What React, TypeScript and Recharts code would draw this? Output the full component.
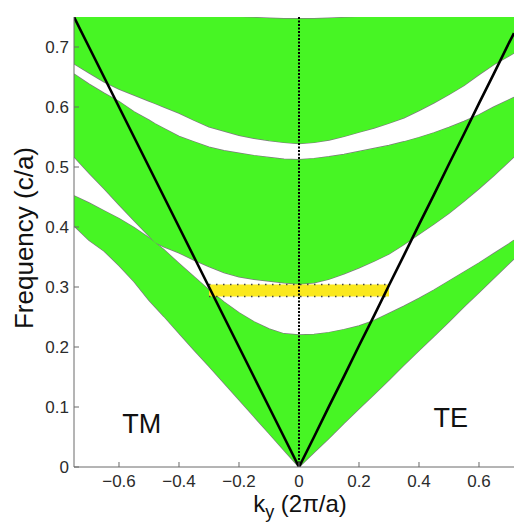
import { ComposedChart, Area, Line, XAxis, YAxis, ReferenceArea, ReferenceLine, ReferenceDot, Label } from "recharts";

const FONT = "'Liberation Sans', Arial, Helvetica, sans-serif";
const GREEN = "#47F524";
const YELLOW = "#FAE81E";
const AXIS = "#6a6a6a";
const EDGE = "#7d7d7d";

// wavevector samples (2pi/a)
const kValues = [-0.75, -0.7, -0.65, -0.6, -0.55, -0.5, -0.48, -0.45, -0.4, -0.35, -0.3, -0.25, -0.2, -0.15, -0.1, -0.05, 0,
  0.05, 0.1, 0.15, 0.2, 0.25, 0.3, 0.35, 0.4, 0.45, 0.5, 0.55, 0.6, 0.65, 0.7, 0.7167];

// TM on the left (k<0), TE on the right (k>0)
const band1Low = [0.402, 0.378, 0.36, 0.336, 0.309, 0.278, 0.267, 0.251, 0.223, 0.195, 0.168, 0.14, 0.112, 0.084, 0.056, 0.028, 0,
  0.024, 0.048, 0.073, 0.097, 0.121, 0.145, 0.17, 0.194, 0.218, 0.242, 0.267, 0.291, 0.315, 0.339, 0.347];
const band1High = [0.452, 0.44, 0.427, 0.414, 0.399, 0.382, 0.374, 0.362, 0.339, 0.317, 0.295, 0.275, 0.257, 0.242, 0.23, 0.222, 0.22,
  0.221, 0.224, 0.229, 0.235, 0.244, 0.256, 0.268, 0.281, 0.295, 0.31, 0.325, 0.34, 0.356, 0.372, 0.378];
const band2Low = [0.517, 0.49, 0.464, 0.437, 0.411, 0.385, 0.374, 0.367, 0.357, 0.345, 0.334, 0.324, 0.317, 0.313, 0.31, 0.307, 0.305,
  0.307, 0.313, 0.322, 0.332, 0.343, 0.355, 0.371, 0.388, 0.405, 0.423, 0.443, 0.464, 0.486, 0.509, 0.517];
const band2High = [0.655, 0.638, 0.623, 0.609, 0.592, 0.578, 0.572, 0.564, 0.551, 0.542, 0.533, 0.527, 0.523, 0.519, 0.516, 0.513, 0.512,
  0.514, 0.517, 0.521, 0.526, 0.531, 0.536, 0.542, 0.549, 0.557, 0.566, 0.576, 0.587, 0.6, 0.612, 0.616];
const band3Low = [0.672, 0.657, 0.642, 0.63, 0.62, 0.61, 0.606, 0.6, 0.59, 0.578, 0.567, 0.56, 0.553, 0.548, 0.544, 0.541, 0.539,
  0.541, 0.545, 0.551, 0.558, 0.565, 0.573, 0.582, 0.594, 0.607, 0.621, 0.636, 0.654, 0.671, 0.685, 0.69];
const band3High = [0.75, 0.75, 0.75, 0.75, 0.75, 0.75, 0.75, 0.75, 0.75, 0.75, 0.75, 0.75, 0.75, 0.749, 0.748, 0.747, 0.747,
  0.747, 0.748, 0.749, 0.75, 0.75, 0.75, 0.75, 0.75, 0.75, 0.75, 0.75, 0.75, 0.75, 0.75, 0.75];
// light line
const lightLine = [0.75, 0.7, 0.65, 0.6, 0.55, 0.5, 0.48, 0.45, 0.4, 0.35, 0.3, 0.25, 0.2, 0.15, 0.1, 0.05, 0,
  0.05, 0.101, 0.151, 0.202, 0.252, 0.303, 0.353, 0.404, 0.454, 0.505, 0.555, 0.606, 0.656, 0.707, 0.723];

// yellow source band
const sourceK = [-0.3, 0.3];
const sourceFreq = [0.284, 0.304];

const xTicks = [-0.6, -0.4, -0.2, 0, 0.2, 0.4, 0.6];
const yTicks = [0, 0.1, 0.2, 0.3, 0.4, 0.5, 0.6, 0.7];

const data = kValues.map((k, i) => ({
  k,
  b1: [band1Low[i], band1High[i]],
  b2: [band2Low[i], band2High[i]],
  b3: [band3Low[i], band3High[i]],
  light: lightLine[i],
}));

const bandKeys = ["b1", "b2", "b3"];

const fmt = (v: number) => (v === 0 ? "0" : (v < 0 ? "\u2212" : "") + Math.abs(v).toFixed(1));

const tickStyle = { fontSize: 17, fontFamily: FONT, fill: "#2b2b2b" };

function YTitle() {
  return (
    <text x={33} y={238} transform="rotate(-90 33 238)" textAnchor="middle" fontSize={26} fontFamily={FONT} fill="#111">
      Frequency (c/a)
    </text>
  );
}

function XTitle() {
  return (
    <text x={300} y={512} textAnchor="middle" fontSize={24} fontFamily={FONT} fill="#111">
      k<tspan fontSize={18} dy={6}>y</tspan><tspan dy={-6}> (2π/a)</tspan>
    </text>
  );
}

export default function App() {
  return (
    <div style={{ position: "absolute", left: 0, top: 0, background: "#fff" }}>
      <ComposedChart width={514} height={526} data={data} margin={{ top: 17, right: 0, left: 14, bottom: 0 }}>
        <XAxis dataKey="k" type="number" domain={[-0.75, 0.7167]} allowDataOverflow ticks={xTicks}
          tickFormatter={fmt} tick={tickStyle} tickSize={-5} tickMargin={13} height={59}
          axisLine={{ stroke: AXIS }} tickLine={{ stroke: AXIS }}>
          <Label content={XTitle} />
        </XAxis>
        <YAxis type="number" domain={[0, 0.75]} allowDataOverflow ticks={yTicks} width={60}
          tickFormatter={fmt} tick={tickStyle} tickSize={-5} tickMargin={10}
          axisLine={{ stroke: AXIS }} tickLine={{ stroke: AXIS }}>
          <Label content={YTitle} />
        </YAxis>
        {bandKeys.map((key) => (
          <Area key={key + "-edge"} dataKey={key} type="linear" fill="none" stroke={EDGE} strokeWidth={1.4}
            dot={false} activeDot={false} isAnimationActive={false} />
        ))}
        {bandKeys.map((key) => (
          <Area key={key} dataKey={key} type="linear" fill={GREEN} fillOpacity={1} stroke="none"
            dot={false} activeDot={false} isAnimationActive={false} />
        ))}
        <ReferenceArea x1={sourceK[0]} x2={sourceK[1]} y1={sourceFreq[0]} y2={sourceFreq[1]} fill={YELLOW} fillOpacity={1} stroke="none" />
        <ReferenceLine segment={[{ x: sourceK[0], y: sourceFreq[1] }, { x: sourceK[1], y: sourceFreq[1] }]}
          stroke="#444" strokeWidth={1.5} strokeDasharray="1.5 5.5" />
        <ReferenceLine segment={[{ x: sourceK[0], y: sourceFreq[0] }, { x: sourceK[1], y: sourceFreq[0] }]}
          stroke="#444" strokeWidth={1.5} strokeDasharray="1.5 5.5" />
        <ReferenceLine x={0} stroke="#000" strokeWidth={2} strokeDasharray="2 1.5" />
        <Line dataKey="light" type="linear" stroke="#000" strokeWidth={2.6} dot={false} activeDot={false} isAnimationActive={false} />
        <ReferenceDot x={-0.524} y={0.073} r={0} fill="none" stroke="none"
          label={{ value: "TM", position: "center", fontSize: 27, fontFamily: FONT, fill: "#111" }} />
        <ReferenceDot x={0.506} y={0.083} r={0} fill="none" stroke="none"
          label={{ value: "TE", position: "center", fontSize: 27, fontFamily: FONT, fill: "#111" }} />
      </ComposedChart>
    </div>
  );
}
